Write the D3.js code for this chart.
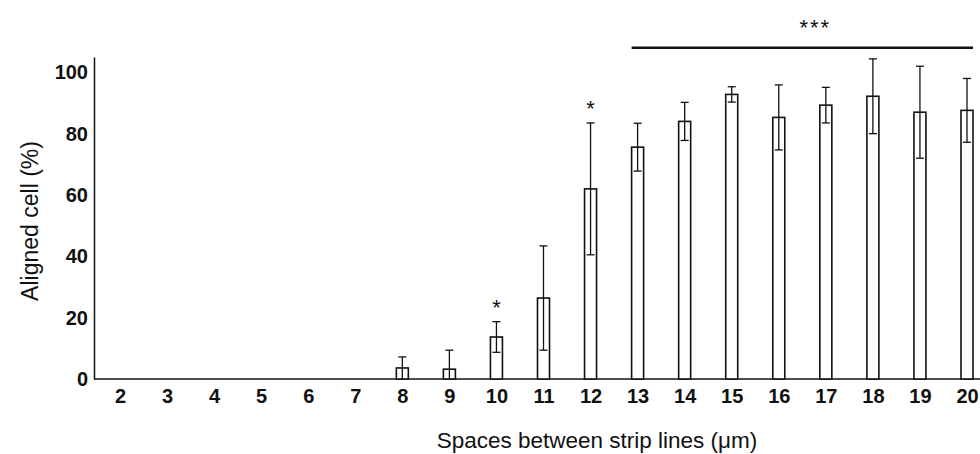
<!DOCTYPE html>
<html>
<head>
<meta charset="utf-8">
<script src="https://cdn.jsdelivr.net/npm/d3@7"></script>
<style>
  body { margin: 0; background: #fff; }
  svg { display: block; font-family: Arial, "Liberation Sans", sans-serif; }
</style>
</head>
<body>
<div id="chart"></div>
<script>
// spacing between strip lines (um)
const spaces = [2, 3, 4, 5, 6, 7, 8, 9, 10, 11, 12, 13, 14, 15, 16, 17, 18, 19, 20];
// aligned cell (%) mean and SD
const aligned = [0, 0, 0, 0, 0, 0, 3.6, 3.2, 13.7, 26.4, 62, 75.6, 84, 92.8, 85.3, 89.3, 92.2, 87, 87.6];
const sd = [0, 0, 0, 0, 0, 0, 3.6, 6.2, 5, 17, 21.5, 7.8, 6.2, 2.5, 10.6, 5.8, 12.2, 15, 10.4];
const yTicks = [0, 20, 40, 60, 80, 100];
// significance marks
const singleStars = [{x: 10, y: 25}, {x: 12, y: 90}];
const groupStars = {from: 13, to: 20, y: 108, label: "***"};

const W = 980, H = 454;
const font = "Arial, 'Liberation Sans', sans-serif";
const svg = d3.select("#chart").append("svg")
    .attr("width", W)
    .attr("height", H);

const x = d3.scalePoint()
    .domain(spaces)
    .range([120, 967]);

const y = d3.scaleLinear()
    .domain([0, 105])
    .range([379, 57]);

const barW = 12;

// axes
svg.append("g")
    .attr("transform", "translate(94,0)")
    .call(d3.axisLeft(y).tickValues(yTicks).tickSize(0).tickPadding(6))
    .call(g => g.select(".domain").attr("stroke", "#111").attr("stroke-width", 1.5))
    .call(g => g.selectAll("text")
        .attr("font-size", 20).attr("font-weight", "bold").attr("fill", "#111")
        .attr("font-family", font));

svg.append("g")
    .attr("transform", "translate(0,379)")
    .call(d3.axisBottom(x).tickSize(0).tickPadding(10))
    .call(g => g.select(".domain").attr("d", "M94,0H980").attr("stroke", "#111").attr("stroke-width", 1.5))
    .call(g => g.selectAll("text")
        .attr("font-size", 20).attr("font-weight", "bold").attr("fill", "#111")
        .attr("font-family", font));

// bars
const data = spaces.map((s, i) => ({s: s, v: aligned[i], e: sd[i]}));
const shown = data.filter(d => d.v > 0);

svg.selectAll("rect.bar")
    .data(shown)
    .enter()
    .append("rect")
    .attr("class", "bar")
    .attr("x", d => x(d.s) - barW / 2)
    .attr("y", d => y(d.v))
    .attr("width", barW)
    .attr("height", d => y(0) - y(d.v))
    .attr("fill", "#fff")
    .attr("stroke", "#111")
    .attr("stroke-width", 1.6);

// error bars
const err = svg.append("g").attr("stroke", "#111").attr("stroke-width", 1.3);
shown.forEach(d => {
    const lo = Math.max(0, d.v - d.e), hi = d.v + d.e;
    err.append("line")
        .attr("x1", x(d.s)).attr("x2", x(d.s))
        .attr("y1", y(lo)).attr("y2", y(hi));
    err.append("line")
        .attr("x1", x(d.s) - 4).attr("x2", x(d.s) + 4)
        .attr("y1", y(hi)).attr("y2", y(hi));
    if (lo > 0) {
        err.append("line")
            .attr("x1", x(d.s) - 4).attr("x2", x(d.s) + 4)
            .attr("y1", y(lo)).attr("y2", y(lo));
    }
});

// significance
svg.selectAll("text.star")
    .data(singleStars)
    .enter()
    .append("text")
    .attr("class", "star")
    .attr("x", d => x(d.x))
    .attr("y", d => y(d.y) + 13)
    .attr("text-anchor", "middle")
    .attr("font-size", 22)
    .attr("fill", "#111")
    .text("*");

svg.append("line")
    .attr("x1", x(groupStars.from) - 6)
    .attr("x2", x(groupStars.to) + 6)
    .attr("y1", y(groupStars.y))
    .attr("y2", y(groupStars.y))
    .attr("stroke", "#111")
    .attr("stroke-width", 2.6);

svg.append("text")
    .attr("x", (x(groupStars.from) + x(groupStars.to)) / 2 + 13)
    .attr("y", y(groupStars.y) - 13)
    .attr("text-anchor", "middle")
    .attr("font-size", 22)
    .attr("letter-spacing", 2)
    .attr("fill", "#111")
    .text(groupStars.label);

// axis titles
svg.append("text")
    .attr("transform", "translate(38,221) rotate(-90)")
    .attr("text-anchor", "middle")
    .attr("font-size", 23)
    .attr("fill", "#111")
    .text("Aligned cell (%)");

svg.append("text")
    .attr("x", 597)
    .attr("y", 448)
    .attr("text-anchor", "middle")
    .attr("font-size", 22.5)
    .attr("fill", "#111")
    .text("Spaces between strip lines (\u03bcm)");
</script>
</body>
</html>
